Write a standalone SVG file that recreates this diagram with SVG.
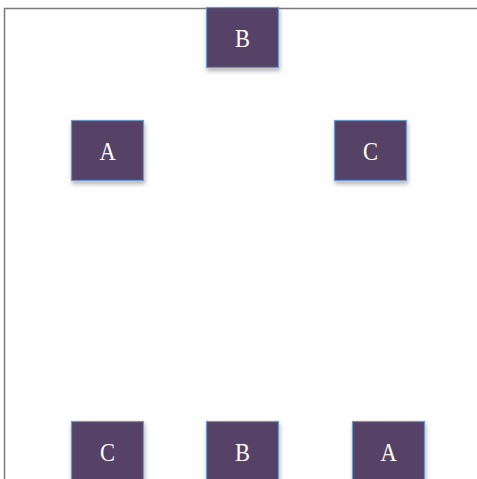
<svg xmlns="http://www.w3.org/2000/svg" width="477" height="479" viewBox="0 0 477 479">
<defs>
<style>
.box{fill:#544366;stroke:#6F96C8;stroke-width:1.2;filter:url(#sh)}
.lbl{font-family:"Liberation Serif","DejaVu Serif",serif;font-size:25px;fill:#FFFFFF;text-anchor:middle}
.frame{stroke:#7A7A7A;stroke-width:1.5;fill:none}
</style>
<filter id="sh" x="-20%" y="-20%" width="150%" height="150%">
<feDropShadow dx="1" dy="3" stdDeviation="2" flood-color="#000" flood-opacity="0.3"/>
</filter>
</defs>
<rect width="477" height="479" fill="#FFFFFF"/>
<g id="frame">
<path class="frame" d="M4.5,479 V8.5 H477"/>
</g>
<g id="connectors"></g>
<g id="node-top-B">
<rect class="box" x="206.5" y="7.5" width="72" height="60"/>
<text class="lbl" transform="translate(242.5,47) scale(0.9,1)">B</text>
</g>
<g id="node-mid-A">
<rect class="box" x="71.5" y="120.5" width="72" height="60"/>
<text class="lbl" transform="translate(107.5,160) scale(0.9,1)">A</text>
</g>
<g id="node-mid-C">
<rect class="box" x="334.5" y="120.5" width="72" height="60"/>
<text class="lbl" transform="translate(370.5,160) scale(0.9,1)">C</text>
</g>
<g id="node-bot-C">
<rect class="box" x="71.5" y="421.5" width="72" height="60"/>
<text class="lbl" transform="translate(107.5,461) scale(0.9,1)">C</text>
</g>
<g id="node-bot-B">
<rect class="box" x="206.5" y="421.5" width="72" height="60"/>
<text class="lbl" transform="translate(242.5,461) scale(0.9,1)">B</text>
</g>
<g id="node-bot-A">
<rect class="box" x="352.5" y="421.5" width="72" height="60"/>
<text class="lbl" transform="translate(388.5,461) scale(0.9,1)">A</text>
</g>
</svg>
